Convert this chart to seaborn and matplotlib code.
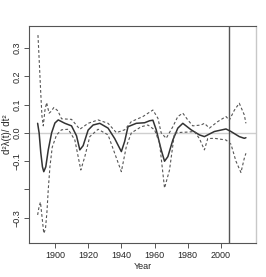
import numpy as np
import pandas as pd
import matplotlib
matplotlib.use("Agg")
import matplotlib.pyplot as plt
import seaborn as sns

# estimate (solid)
est_year = [1889.6, 1890.5, 1891.5, 1892.5, 1893.3, 1894.5, 1896, 1898, 1900, 1902,
            1906, 1910, 1913, 1915, 1917, 1920, 1923, 1927, 1932, 1936, 1940, 1942,
            1944, 1949, 1954, 1957, 1959, 1961, 1964, 1966, 1968, 1971, 1974, 1977,
            1982, 1987, 1990, 1996, 2003, 2006, 2011, 2014, 2015]
est_val = [0.034, 0.0, -0.07, -0.12, -0.137, -0.12, -0.06, 0.0, 0.035, 0.046,
           0.034, 0.025, -0.01, -0.06, -0.045, 0.01, 0.028, 0.034, 0.017, -0.02, -0.066, -0.03,
           0.022, 0.034, 0.036, 0.043, 0.045, 0.011, -0.06, -0.10, -0.084, -0.025, 0.017, 0.034,
           0.011, -0.007, -0.013, 0.005, 0.014, 0.005, -0.013, -0.019, -0.017]

# upper band (dashed)
up_year = [1889.8, 1890.6, 1891.4, 1892.2, 1893, 1894, 1895, 1896.5, 1897.5, 1899.4,
           1901.8, 1904, 1910, 1915, 1920, 1926, 1932, 1937, 1942, 1946, 1953, 1959,
           1962, 1964, 1967, 1971, 1974, 1977, 1980, 1983, 1988, 1990, 1993, 1998,
           2003, 2005, 2008, 2011, 2014, 2015]
up_val = [0.346, 0.25, 0.15, 0.06, 0.025, 0.08, 0.107, 0.07, 0.075, 0.09,
          0.078, 0.05, 0.048, 0.013, 0.034, 0.046, 0.034, 0.001, 0.011, 0.04, 0.058, 0.081,
          0.052, 0.0, -0.019, 0.022, 0.058, 0.07, 0.046, 0.025, 0.028, 0.034, 0.017, 0.04,
          0.058, 0.045, 0.08, 0.105, 0.064, 0.034]

# lower band (dashed)
lo_year = [1889.6, 1890.5, 1891.3, 1892.3, 1893.3, 1894.3, 1895.2, 1896, 1897, 1898.4,
           1901, 1904, 1908, 1912, 1915.6, 1918, 1921, 1926, 1932, 1936, 1940, 1943,
           1946, 1952, 1956, 1960, 1963, 1966, 1969, 1972, 1976, 1980, 1984, 1987,
           1990, 1992, 1996, 2003, 2006, 2009, 2012, 2014, 2015]
lo_val = [-0.29, -0.26, -0.245, -0.30, -0.355, -0.34, -0.28, -0.2, -0.12, -0.05,
          -0.007, 0.011, 0.013, -0.025, -0.131, -0.084, -0.013, 0.013, -0.007, -0.072, -0.137, -0.048,
          0.0, 0.022, 0.028, 0.011, -0.036, -0.195, -0.131, 0.0, 0.002, 0.003, 0.005, -0.02,
          -0.06, -0.02, -0.019, -0.025, -0.04, -0.1, -0.14, -0.09, -0.072]

xticks = [1900, 1920, 1940, 1960, 1980, 2000]
yticks = [-0.3, -0.2, -0.1, 0.0, 0.1, 0.2, 0.3]
ylabels = ["\u22120.3", "", "\u22120.1", "0.0", "0.1", "0.2", "0.3"]
vline_year = 2005

sns.set_theme(style="white")
plt.rcParams['font.family'] = ['Liberation Sans', 'DejaVu Sans']

fig = plt.figure(figsize=(2.66, 2.77), dpi=100)
ax = fig.add_axes([0.109, 0.123, 0.853, 0.783])

ax.axhline(0, color="#cfcfcf", lw=1.0, zorder=1)
ax.axvline(vline_year, color="#555555", lw=1.0, zorder=1)

est = pd.DataFrame({"year": est_year, "val": est_val})
up = pd.DataFrame({"year": up_year, "val": up_val})
lo = pd.DataFrame({"year": lo_year, "val": lo_val})

sns.lineplot(data=est, x="year", y="val", ax=ax, color="#333333", lw=1.1, sort=False)
for d in (up, lo):
    sns.lineplot(data=d, x="year", y="val", ax=ax, color="#555555", lw=0.8,
                 sort=False, dashes=False, linestyle=(0, (2.5, 2)))

ax.set_xlim(1884.4, 2021)
ax.set_ylim(-0.389, 0.378)
ax.set_xticks(xticks)
ax.set_xticklabels([str(t) for t in xticks], fontsize=6.5)
ax.set_yticks(yticks)
ax.set_yticklabels(ylabels, fontsize=6.5, rotation=90, va="center")
ax.tick_params(axis="both", direction="out", length=3.5, width=0.7, color="#555555",
               pad=2, left=True, bottom=True)

for s in ("left", "bottom", "top"):
    ax.spines[s].set_color("#555555")
    ax.spines[s].set_linewidth(0.8)
ax.spines["right"].set_color("#c8c8c8")
ax.spines["right"].set_linewidth(1.0)

ax.set_xlabel("Year", fontsize=6.5, labelpad=2)
ax.set_ylabel("d\u00b2\u03bb(t)/ dt\u00b2", fontsize=7)
ax.yaxis.set_label_coords(-0.075, 0.5)

fig.savefig("out.png", dpi=100)
